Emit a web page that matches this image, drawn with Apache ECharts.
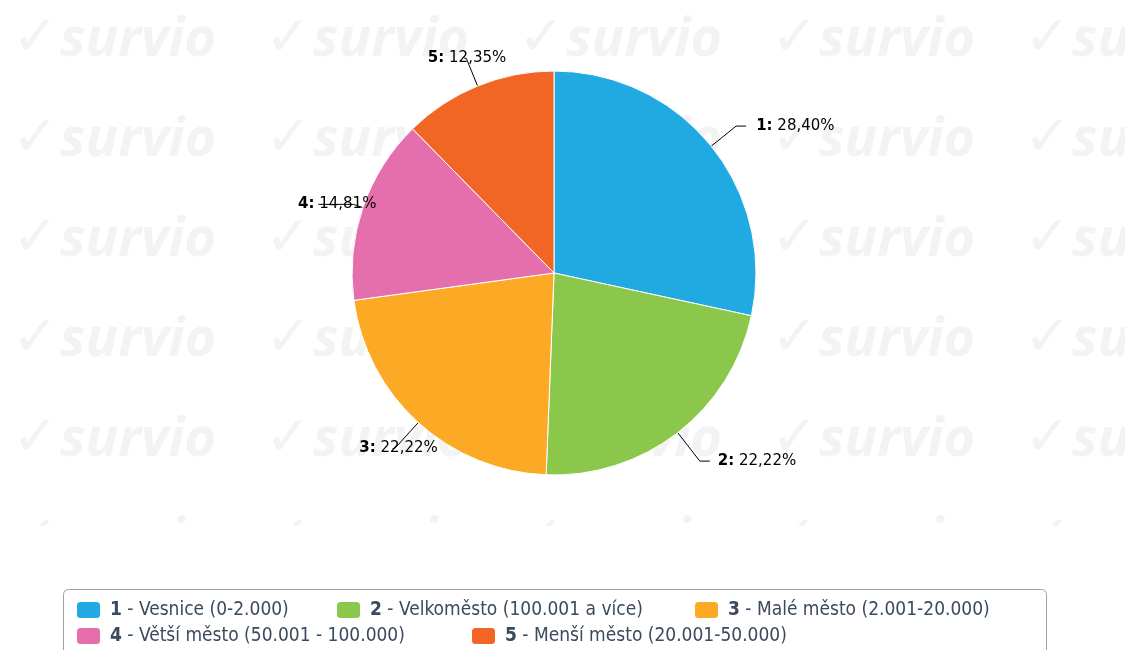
<!DOCTYPE html>
<html>
<head>
<meta charset="utf-8">
<script src="https://cdn.jsdelivr.net/npm/echarts@6/dist/echarts.min.js"></script>
<style>
  html, body { margin: 0; padding: 0; background: #fff; }
  #chart { width: 1125px; height: 650px; }
</style>
</head>
<body>
<div id="chart"></div>
<script>
// data
var categories = ['Vesnice (0-2.000)', 'Velkoměsto (100.001 a více)', 'Malé město (2.001-20.000)', 'Větší město (50.001 - 100.000)', 'Menší město (20.001-50.000)'];
var counts = [23, 18, 18, 12, 10];
var colors = ['#21a9e1', '#8bc74b', '#fcaa26', '#e56eac', '#f16625'];

var total = counts.reduce(function (a, b) { return a + b; }, 0);

// label line tweaks per slice (the left side labels sit over their connectors)
var lineLen = [32, 36, 35, 10, 30];
var lineLen2 = [10, 10, 2, 35, 2];
var labelDist = [10, 8, -45, -58, -42];

// survio watermark tiles
var watermark = [];
for (var r = 0; r < 6; r++) {
    for (var c = 0; c < 5; c++) {
        var x = 12 + c * 253, y = 12 + r * 100;
        watermark.push({
            type: 'text', z: -10, silent: true, x: x, y: y,
            style: { text: '✓', fill: '#f3f3f3', font: 'bold 56px "DejaVu Sans"' }
        });
        watermark.push({
            type: 'text', z: -10, silent: true, x: x + 48, y: y + 2,
            style: { text: 'survio', fill: '#f3f3f3', font: 'italic bold 54px "Open Sans"' }
        });
    }
}
// white cover below watermark area
watermark.push({
    type: 'rect', z: -5, silent: true,
    shape: { x: 0, y: 526, width: 1125, height: 130 },
    style: { fill: '#fff' }
});
// legend frame
watermark.push({
    type: 'rect', z: 1, silent: true,
    shape: { x: 63.5, y: 589.5, width: 983, height: 80, r: 5 },
    style: { fill: '#fff', stroke: '#a0a0a0', lineWidth: 1 }
});

var legendPos = [[75, 600], [335, 600], [693, 600], [75, 626], [470, 626]];
var legendFont = '"DejaVu Sans Condensed", "DejaVu Sans"';
var legends = categories.map(function (name, i) {
    return {
        data: [name],
        left: legendPos[i][0], top: legendPos[i][1],
        padding: 0, z: 5,
        icon: 'roundRect', itemWidth: 25, itemHeight: 18, itemGap: 0,
        selectedMode: false,
        formatter: function (n) {
            var k = categories.indexOf(n) + 1;
            return '{b|' + k + '} - ' + n;
        },
        textStyle: {
            color: '#3b4a5c', fontSize: 19, fontFamily: legendFont, padding: [0, 0, 0, 4],
            rich: { b: { fontWeight: 'bold', fontSize: 19, color: '#3b4a5c', fontFamily: legendFont } }
        }
    };
});

var chart = echarts.init(document.getElementById('chart'));
chart.setOption({
    animation: false,
    backgroundColor: '#fff',
    color: colors,
    graphic: watermark,
    legend: legends,
    series: [{
        type: 'pie',
        center: [554, 273],
        radius: 202,
        startAngle: 90,
        clockwise: true,
        avoidLabelOverlap: false,
        itemStyle: { borderColor: '#fff', borderWidth: 1 },
        label: {
            show: true,
            color: '#000',
            fontSize: 15,
            fontFamily: '"DejaVu Sans"',
            formatter: function (p) {
                var pct = (p.value / total * 100).toFixed(2).replace('.', ',');
                return '{b|' + (p.dataIndex + 1) + ':} ' + pct + '%';
            },
            rich: { b: { fontWeight: 'bold', fontSize: 15, color: '#000', fontFamily: '"DejaVu Sans"' } }
        },
        labelLine: { show: true, length: 14, length2: 10, lineStyle: { color: '#000', width: 1 } },
        emphasis: { disabled: true },
        data: categories.map(function (name, i) {
            return {
                name: name, value: counts[i],
                label: { distanceToLabelLine: labelDist[i] },
                labelLine: { length: lineLen[i], length2: lineLen2[i] }
            };
        })
    }]
});
</script>
</body>
</html>
